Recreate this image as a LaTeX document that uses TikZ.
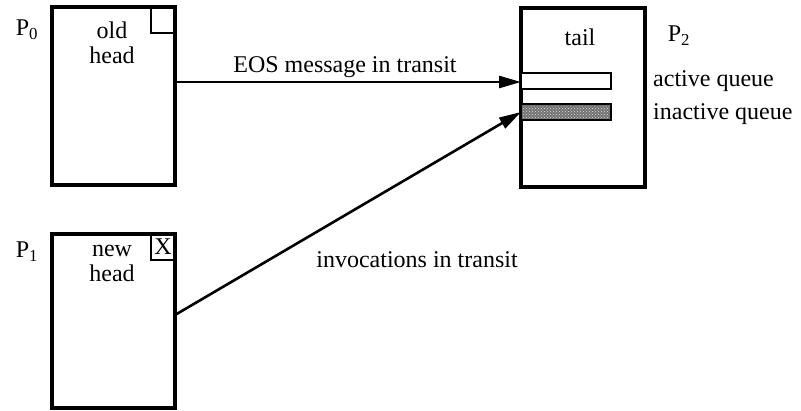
\documentclass[tikz,border=0pt]{standalone}
\usepackage{fontspec}
\setmainfont{Liberation Serif}
\usetikzlibrary{arrows.meta,patterns}
\begin{document}
\begin{tikzpicture}[x=1pt,y=-1pt,
  procbox/.style={draw,line width=3.2pt,inner sep=0pt},
  flagbox/.style={draw,line width=2.6pt,inner sep=0pt},
  txt/.style={font=\fontsize{24}{25}\selectfont,inner sep=0pt},
  msg/.style={line width=2.6pt,-{Triangle[length=22pt,width=12pt]}},
  queuebar/.style={draw,line width=2.6pt}]
\useasboundingbox (0,0) rectangle (801,410);
% processors
\draw[procbox] (52,7) rectangle (175,185);
\draw[procbox] (52,234) rectangle (175,408);
\draw[procbox] (521,8) rectangle (645,187);
% head flags
\draw[flagbox] (151,7) rectangle (175,33);
\draw[flagbox] (151,234) rectangle (175,260);
\node[txt] (xmark) at (163,247) {X};
% queues in the tail
\draw[queuebar,fill=white] (521,73) rectangle (611,89);
\draw[queuebar,fill=black!55] (521,104) rectangle (611,120);
\fill[pattern=crosshatch dots,pattern color=white!70!gray] (523,106) rectangle (609,118);
% labels
\node[txt] (p0) at (27,30) {P\textsubscript{0}};
\node[txt] (p1) at (27,252) {P\textsubscript{1}};
\node[txt] (p2) at (679,36) {P\textsubscript{2}};
\node[txt,align=center] (oldhead) at (112,43) {old\\head};
\node[txt,align=center] (newhead) at (112,263) {new\\head};
\node[txt] (tail) at (580,37) {tail};
\node[txt,anchor=west] (aq) at (653,81) {active queue};
\node[txt,anchor=west] (iq) at (653,114) {inactive queue};
% messages
\coordinate (eosfrom) at (175,82);
\coordinate (eosto) at (521,82);
\coordinate (invfrom) at (175,315);
\coordinate (invto) at (521,112);
\draw[msg] (eosfrom) -- (eosto);
\draw[msg] (invfrom) -- (invto);
\node[txt] (eoslbl) at (345,67) {EOS message in transit};
\node[txt] (invlbl) at (417,260) {invocations in transit};
\end{tikzpicture}
\end{document}
